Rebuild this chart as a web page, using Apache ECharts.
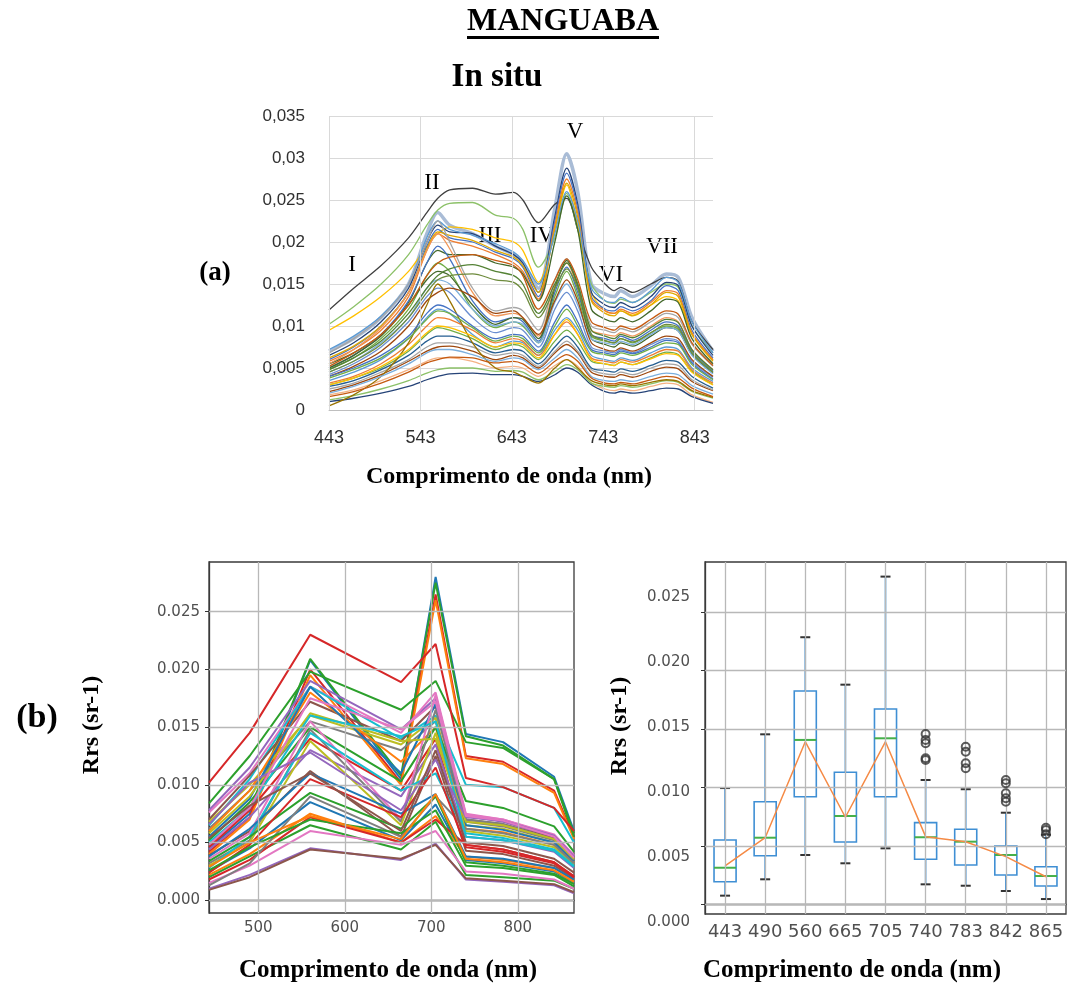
<!DOCTYPE html>
<html><head><meta charset="utf-8">
<script src="https://cdn.jsdelivr.net/npm/echarts@6/dist/echarts.min.js"></script>
<style>html,body{margin:0;padding:0;background:#fff}#c{width:1068px;height:987px}</style>
</head><body><div id="c"></div>
<script>
// ---------- Panel (a): in situ spectra (values in 1e-3 sr^-1) ----------
const topWavelengths = [443,470,500,530,550,562,575,600,625,645,655,672,690,703,715,730,745,755,762,775,795,812,825,840,863];
const topTicks = [443,543,643,743,843];
const topYTicks = [0,0.005,0.01,0.015,0.02,0.025,0.03,0.035];
const topSpectra = [
 [7.0,8.5,11.0,15.0,21.0,23.5,22.0,21.0,19.5,18.5,17.5,14.5,24.0,30.5,26.0,15.0,13.8,13.5,14.2,13.5,14.8,16.2,15.8,11.0,7.0],
 [11.9,14.5,17.2,20.5,23.5,25.2,26.2,26.4,25.7,25.9,25.0,22.3,24.5,25.2,21.5,17.0,15.0,14.2,14.6,14.0,15.0,15.8,15.3,10.5,7.2],
 [10.2,12.3,15.0,18.5,22.0,23.8,24.6,24.7,23.2,22.8,21.5,17.0,20.5,25.8,21.5,15.0,13.0,12.7,13.2,12.8,14.0,15.0,14.6,10.0,6.8],
 [9.5,11.2,13.5,16.5,19.5,21.0,21.8,21.5,20.5,20.0,19.0,15.2,21.5,26.8,22.0,14.0,11.8,11.5,11.8,11.3,12.5,13.5,13.0,9.0,6.0],
 [6.5,8.0,10.5,14.5,20.0,22.0,21.2,21.0,19.5,18.5,17.5,14.0,23.0,28.8,24.5,14.0,12.5,12.2,12.8,12.2,13.5,15.2,14.8,10.0,6.5],
 [6.0,7.5,10.0,14.0,19.5,21.5,20.5,20.0,18.8,18.0,17.0,13.5,22.5,28.2,24.0,13.5,12.0,11.8,12.3,11.8,13.0,14.8,14.2,9.5,6.2],
 [5.8,7.2,9.5,13.5,19.0,21.0,20.2,19.5,18.5,17.5,16.5,13.2,22.0,27.5,23.5,13.2,11.8,11.5,12.0,11.5,12.8,14.2,13.8,9.2,6.0],
 [6.2,7.6,10.0,14.0,19.2,21.2,20.8,20.2,19.0,18.2,17.2,14.0,21.5,27.0,23.0,13.0,11.5,11.2,11.8,11.2,12.5,14.0,13.5,9.0,5.8],
 [7.2,8.8,11.2,15.0,20.5,22.5,21.5,20.8,19.8,18.8,17.8,15.0,21.0,26.0,22.5,14.5,13.0,12.8,13.4,12.8,14.2,15.8,15.2,10.5,6.8],
 [5.5,6.8,9.0,12.8,17.5,19.0,18.5,18.5,17.5,17.0,16.2,13.0,20.0,25.5,21.5,12.0,10.8,10.5,11.0,10.5,11.8,13.2,12.8,8.5,5.5],
 [6.8,8.5,11.0,15.0,20.0,22.5,20.0,14.5,11.8,12.2,11.8,9.5,15.5,18.0,15.0,10.0,9.5,9.2,9.7,9.3,10.5,11.5,11.0,7.8,5.2],
 [5.5,7.2,9.8,14.0,19.0,21.0,19.2,14.0,11.2,11.5,11.0,8.8,14.8,17.5,14.5,9.5,9.0,8.8,9.2,8.8,10.0,11.0,10.5,7.2,4.8],
 [5.0,6.5,9.0,13.0,17.5,19.5,18.0,13.0,10.5,11.0,10.5,8.2,14.0,17.0,14.0,9.0,8.5,8.2,8.8,8.3,9.5,10.5,10.0,7.0,4.6],
 [4.8,6.2,8.5,12.0,16.0,17.5,16.5,12.0,9.8,10.5,10.0,8.0,13.5,16.5,13.5,8.8,8.2,8.0,8.5,8.0,9.2,10.0,9.6,6.8,4.5],
 [5.0,6.5,8.8,12.5,15.5,16.5,16.0,12.5,10.2,11.0,10.8,8.5,14.5,17.8,14.8,8.5,7.8,7.5,8.0,7.6,8.8,9.8,9.4,6.6,4.4],
 [4.5,5.8,8.0,11.0,14.5,15.5,15.0,12.0,10.0,10.5,10.2,8.0,12.8,15.0,12.5,8.5,8.0,7.8,8.2,7.8,9.0,9.8,9.4,6.5,4.3],
 [4.2,5.5,7.5,10.5,13.5,14.5,14.0,11.0,9.2,9.8,9.5,7.5,12.0,14.0,11.8,7.5,7.0,6.8,7.2,6.8,7.8,8.5,8.2,5.8,3.9],
 [4.0,5.2,7.0,10.0,13.0,14.0,14.5,13.5,11.5,11.8,11.0,9.0,13.0,15.5,13.0,8.0,7.2,7.0,7.4,7.0,8.0,8.8,8.5,6.0,4.0],
 [5.2,6.8,9.0,12.5,16.0,17.5,18.2,18.5,17.8,17.2,16.0,12.0,15.5,18.0,15.5,10.5,9.8,9.5,10.0,9.6,10.8,11.8,11.4,8.0,5.3],
 [4.8,6.2,8.2,11.5,14.5,16.0,16.8,17.3,16.5,16.0,15.0,11.5,15.0,17.5,15.0,9.5,8.8,8.5,9.0,8.6,9.8,10.8,10.4,7.2,4.8],
 [4.5,5.8,7.8,11.0,14.0,15.5,16.0,16.2,15.5,15.2,14.2,11.0,14.5,16.8,14.5,9.0,8.3,8.0,8.5,8.1,9.2,10.2,9.8,6.8,4.5],
 [3.5,4.5,6.0,8.5,11.0,12.0,11.5,9.0,7.5,8.2,8.0,6.5,9.5,11.0,9.5,6.5,6.0,5.8,6.2,5.9,6.8,7.5,7.2,5.0,3.4],
 [3.2,4.0,5.5,7.8,10.0,11.0,10.8,9.5,8.0,8.5,8.2,6.5,9.0,10.5,9.0,6.2,5.8,5.6,6.0,5.7,6.5,7.2,7.0,4.8,3.2],
 [3.0,3.8,5.0,7.0,9.0,9.8,9.5,8.5,7.2,7.8,7.5,6.0,8.2,9.5,8.2,5.8,5.5,5.3,5.7,5.4,6.2,6.9,6.6,4.6,3.0],
 [2.8,3.5,4.8,6.5,8.2,8.8,8.8,8.0,6.8,7.2,7.0,5.5,7.5,8.8,7.5,5.0,4.7,4.5,4.9,4.6,5.3,5.9,5.7,4.0,2.6],
 [2.2,3.0,4.2,5.8,7.0,7.5,7.6,7.0,6.0,6.5,6.2,5.0,6.8,7.8,6.8,4.5,4.0,3.9,4.2,3.9,4.6,5.1,4.9,3.4,2.3],
 [2.5,3.2,4.5,6.0,7.5,8.0,8.0,7.5,6.5,6.8,6.5,5.2,7.0,8.2,7.0,4.8,4.3,4.2,4.5,4.2,5.0,5.5,5.3,3.6,2.4],
 [1.8,2.4,3.5,4.8,5.8,6.2,6.2,5.8,5.0,5.2,5.0,4.0,5.3,6.0,5.2,3.2,2.5,2.3,2.5,2.3,2.8,3.2,3.0,1.8,0.9],
 [1.0,1.4,2.0,2.8,3.6,4.0,4.3,4.4,4.2,4.2,4.0,3.4,4.2,5.0,4.5,3.0,2.2,2.0,2.2,2.0,2.3,2.6,2.5,1.6,0.8],
 [1.2,1.7,2.5,3.5,4.4,4.8,5.0,5.0,4.6,4.7,4.5,3.6,4.6,5.4,4.8,3.2,2.8,2.7,2.9,2.7,3.1,3.5,3.3,2.2,1.4],
 [0.5,1.8,4.0,8.0,12.5,15.0,13.0,8.0,5.0,4.5,4.0,3.2,5.0,6.0,5.0,3.5,3.0,2.9,3.1,2.9,3.3,3.6,3.4,2.3,1.5],
 [4.0,5.0,6.5,8.8,11.5,12.5,12.0,10.0,8.5,9.0,8.8,7.0,10.5,12.5,10.5,7.2,6.8,6.6,7.0,6.7,7.5,8.3,8.0,5.6,3.7],
 [3.8,4.8,6.2,8.5,10.8,11.8,11.5,9.8,8.2,8.8,8.5,6.8,10.0,12.0,10.0,7.0,6.6,6.4,6.8,6.5,7.3,8.0,7.8,5.4,3.6],
 [3.0,3.8,5.2,7.2,9.2,10.0,9.8,8.8,7.5,8.0,7.8,6.2,9.0,10.8,9.0,6.0,5.5,5.3,5.7,5.4,6.1,6.7,6.5,4.5,3.0],
 [2.0,2.8,4.0,5.5,6.8,7.2,7.2,6.6,5.8,6.2,6.0,4.8,6.2,7.2,6.2,4.0,3.5,3.4,3.6,3.4,4.0,4.4,4.2,2.9,1.9],
 [1.6,2.2,3.2,4.5,5.6,6.0,6.3,6.2,5.6,5.8,5.5,4.4,5.8,6.6,5.8,3.8,3.2,3.1,3.3,3.1,3.6,4.0,3.8,2.6,1.6]
];
const topColors = ['#A9BCD6','#404040','#8CC168','#FFC000','#264478','#4472C4','#ED7D31','#E0A800','#5B9BD5','#43682B',
 '#A5A5A5','#F1975A','#4472C4','#70AD47','#43682B','#7CAFDD','#698ED0','#9E480E','#C55A11','#548235','#6E8B3D',
 '#5B9BD5','#ED7D31','#70AD47','#255E91','#9E480E','#A5A5A5','#F4B183','#264478','#8CC168','#997300',
 '#4472C4','#70AD47','#FFC000','#7CAFDD','#C55A11'];
const topWidths = [3.5];
const peakLabels = ['I','II','III','IV','V','VI','VII'];

// ---------- Panel (b) left: Sentinel-2 bands (values in 1e-3 sr^-1) ----------
const s2Wavelengths = [443,490,560,665,705,740,783,842,865];
const s2XTicks = [500,600,700,800];
const s2YTicks = [0,0.005,0.01,0.015,0.02,0.025];
const s2Spectra = [
 [4.5,7.5,20.8,10.5,28.0,14.4,13.7,10.7,6.0],
 [4.8,7.8,20.9,10.8,27.5,14.2,13.4,10.5,5.8],
 [4.2,7.2,20.0,10.2,26.5,12.5,12.0,9.5,5.5],
 [4.0,7.0,19.5,10.0,26.0,12.3,11.8,9.3,5.3],
 [8.4,12.5,19.8,16.5,19.0,13.7,13.2,10.5,5.5],
 [7.8,11.5,19.0,14.8,17.5,7.3,6.8,5.5,3.8],
 [7.6,11.0,18.5,14.5,18.0,7.5,7.0,5.7,3.9],
 [6.5,10.5,18.5,14.0,16.0,10.0,9.8,8.0,5.0],
 [7.0,10.8,17.2,13.8,16.8,7.0,6.6,5.4,3.7],
 [6.8,10.0,16.0,13.5,15.8,6.5,6.2,5.0,3.5],
 [6.2,9.5,15.5,13.0,15.5,6.8,6.4,5.2,3.6],
 [6.0,9.5,18.0,12.0,15.0,6.2,5.9,4.8,3.3],
 [5.5,8.8,18.5,11.0,17.0,6.5,6.1,5.0,3.4],
 [5.2,8.5,15.0,10.3,15.0,8.6,8.0,6.4,4.2],
 [4.6,7.8,14.0,9.5,14.0,4.8,4.4,3.3,2.1],
 [4.4,7.2,13.0,9.0,13.5,5.5,5.2,4.2,2.8],
 [3.9,6.0,11.2,5.5,12.5,4.3,4.0,3.0,1.9],
 [3.6,5.8,15.5,7.0,17.8,7.4,7.0,5.6,3.8],
 [3.2,5.2,14.8,6.8,16.5,7.0,6.6,5.3,3.5],
 [3.0,5.0,13.8,6.5,14.5,6.0,5.6,4.6,3.1],
 [2.8,5.5,14.5,9.5,11.0,5.8,5.4,4.4,3.0],
 [2.5,4.5,8.5,5.2,8.3,3.5,3.2,2.5,1.5],
 [2.2,4.0,7.5,5.0,7.3,3.8,3.5,2.8,1.7],
 [2.0,3.8,6.5,4.4,6.8,2.2,2.0,1.7,1.0],
 [1.8,3.5,7.2,5.0,7.0,4.8,4.4,3.3,2.0],
 [1.0,2.2,4.5,3.5,4.9,1.8,1.6,1.3,0.6],
 [0.9,2.0,4.4,3.6,4.8,1.9,1.7,1.4,0.7],
 [1.5,3.0,6.0,4.8,6.0,2.5,2.3,1.8,1.0],
 [1.3,3.2,9.0,5.5,9.0,6.2,5.8,4.8,3.2],
 [5.8,9.0,16.2,13.8,14.0,6.8,6.5,5.3,3.6],
 [5.0,8.0,16.0,14.2,15.5,5.5,5.2,4.3,2.9],
 [3.8,6.2,11.0,7.5,9.2,3.8,3.6,2.8,1.8],
 [3.4,5.5,9.3,6.2,9.0,3.3,3.0,2.3,1.4],
 [2.4,4.8,10.5,7.2,11.5,4.6,4.2,3.2,2.0],
 [6.6,10.2,12.8,7.8,12.2,7.2,6.9,5.6,3.8],
 [4.8,8.0,17.5,14.8,17.2,7.3,6.9,5.5,3.7],
 [5.4,8.2,11.0,6.0,13.0,5.0,4.7,3.6,2.4],
 [2.6,4.6,7.0,5.8,7.8,3.0,2.8,2.2,1.2],
 [2.9,5.0,7.3,5.3,9.2,3.6,3.3,2.6,1.6],
 [10.2,14.5,23.0,18.9,22.2,10.6,9.8,8.0,6.0]
];
const s2Colors = ['#1f77b4','#2ca02c','#d62728','#ff7f0e','#2ca02c','#9467bd','#e377c2','#17becf','#8c564b','#bcbd22',
 '#7f7f7f','#ff7f0e','#1f77b4','#2ca02c','#d62728','#9467bd','#8c564b','#e377c2','#7f7f7f','#bcbd22',
 '#17becf','#1f77b4','#ff7f0e','#2ca02c','#d62728','#9467bd','#8c564b','#e377c2','#7f7f7f','#bcbd22',
 '#17becf','#1f77b4','#2ca02c','#d62728','#9467bd','#e377c2','#8c564b','#2ca02c','#ff7f0e','#d62728'];

// ---------- Panel (b) right: boxplot per band (values in 1e-3 sr^-1) ----------
const boxCategories = ['443','490','560','665','705','740','783','842','865'];
const boxLow    = [0.74,2.14,4.22,3.51,4.79,1.71,1.59,1.14,0.45];
const boxQ1     = [1.93,4.16,9.21,5.33,9.21,3.85,3.36,2.51,1.57];
const boxMedian = [3.13,5.70,14.07,7.56,14.21,5.74,5.36,4.22,2.42];
const boxQ3     = [5.50,8.78,18.26,11.30,16.72,6.99,6.42,4.99,3.22];
const boxHigh   = [9.95,14.55,22.86,18.80,28.05,10.64,9.85,7.84,5.95];
const boxMeans  = [3.28,5.70,13.92,7.45,13.92,5.79,5.36,4.08,2.36];
const outlierBands  = ['740','740','740','740','740','783','783','783','783','842','842','842','842','842','865','865','865'];
const outlierValues = [14.58,14.07,13.78,12.5,12.35,13.49,13.06,12.07,11.64,10.64,10.36,9.5,9.08,8.78,6.56,6.36,5.99];
const boxYTicks = [0,0.005,0.01,0.015,0.02,0.025];

const K = 1000;
const serif = '"Liberation Serif","DejaVu Serif",serif';
const sans = '"DejaVu Sans",sans-serif';

const chart = echarts.init(document.getElementById('c'), null, {renderer:'canvas'});
const series = [];
const gridMarkStyle = {color:'#b8b8b8', width:1.3, type:'solid'};
function gridLines(xi, yi, pairs, style){
  return {type:'line', xAxisIndex:xi, yAxisIndex:yi, data:[], z:1, silent:true,
    markLine:{silent:true, symbol:['none','none'], label:{show:false}, animation:false,
      lineStyle:style, data: pairs}};
}

// top grid vertical gridlines
series.push(gridLines(0, 0, topTicks.map(v=>[{coord:[v,0]},{coord:[v,0.035]}]), {color:'#d9d9d9', width:1, type:'solid'}));
topSpectra.forEach((v,i)=>{
  series.push({type:'line', xAxisIndex:0, yAxisIndex:0, silent:true, showSymbol:false, smooth:0.3, z:2,
    data: topWavelengths.map((w,j)=>[w, v[j]/K]),
    lineStyle:{color: topColors[i], width: topWidths[i] || 1.3}});
});

// bottom-left gridlines
series.push(gridLines(1, 1,
  s2XTicks.map(v=>[{coord:[v,-0.0011]},{coord:[v,0.0293]}])
    .concat(s2YTicks.map(v=>[{coord:[443,v]},{coord:[865,v]}])), gridMarkStyle));
s2Spectra.forEach((v,i)=>{
  series.push({type:'line', xAxisIndex:1, yAxisIndex:1, silent:true, showSymbol:false, z:2,
    data: s2Wavelengths.map((w,j)=>[w, v[j]/K]),
    lineStyle:{color: s2Colors[i % s2Colors.length], width:2}});
});

// bottom-right gridlines: vertical on category axis, horizontal on a hidden 0..1 x axis
series.push(gridLines(2, 2, boxCategories.map(c=>[{coord:[c,-0.00083]},{coord:[c,0.0293]}]), gridMarkStyle));
series.push(gridLines(4, 2, boxYTicks.map(v=>[{coord:[0,v]},{coord:[1,v]}]), gridMarkStyle));

const boxBlue = '#3f8fd4';
series.push({type:'custom', xAxisIndex:2, yAxisIndex:2, z:3, silent:true,
  data: boxCategories.map((c,i)=>[i, boxLow[i]/K, boxQ1[i]/K, boxMedian[i]/K, boxQ3[i]/K, boxHigh[i]/K]),
  encode:{x:0, y:[1,2,3,4,5]},
  renderItem:function(params, api){
    const i = api.value(0);
    const pL = api.coord([i, api.value(1)]);
    const p1 = api.coord([i, api.value(2)]);
    const pM = api.coord([i, api.value(3)]);
    const p3 = api.coord([i, api.value(4)]);
    const pH = api.coord([i, api.value(5)]);
    const x = pL[0];
    const bw = api.size([1,0])[0]*0.55;
    const cw = 5;
    const st = {stroke:boxBlue, lineWidth:1.6, fill:null};
    return {type:'group', children:[
      {type:'line', shape:{x1:x,y1:pL[1],x2:x,y2:p1[1]}, style:st},
      {type:'line', shape:{x1:x,y1:p3[1],x2:x,y2:pH[1]}, style:st},
      {type:'rect', shape:{x:x-bw/2,y:p3[1],width:bw,height:p1[1]-p3[1]}, style:{stroke:boxBlue,lineWidth:1.6,fill:'rgba(0,0,0,0)'}},
      {type:'line', shape:{x1:x-bw/2,y1:pM[1],x2:x+bw/2,y2:pM[1]}, style:{stroke:'#45b04a',lineWidth:2}},
      {type:'line', shape:{x1:x-cw,y1:pL[1],x2:x+cw,y2:pL[1]}, style:{stroke:'#333',lineWidth:2}},
      {type:'line', shape:{x1:x-cw,y1:pH[1],x2:x+cw,y2:pH[1]}, style:{stroke:'#333',lineWidth:2}}
    ]};
  }});
series.push({type:'line', xAxisIndex:2, yAxisIndex:2, z:4, silent:true, showSymbol:false,
  data: boxMeans.map((m,i)=>[boxCategories[i], m/K]),
  lineStyle:{color:'#f58a45', width:1.5}});
series.push({type:'scatter', xAxisIndex:2, yAxisIndex:2, z:5, silent:true, symbol:'circle', symbolSize:8,
  data: outlierBands.map((b,i)=>[b, outlierValues[i]/K]),
  itemStyle:{color:'rgba(0,0,0,0)', borderColor:'#333', borderWidth:2}});

// graphic texts
function txt(text, x, y, font, extra){
  return Object.assign({type:'text', x:x, y:y, silent:true,
    style:{text:text, font:font, fill:'#000', textAlign:'center', textVerticalAlign:'middle'}}, extra||{});
}
const peakLabelPos = [[352,265],[432,183],[490,236],[542,236],[575,132],[611,275],[662,247]];
const graphics = [
  txt('MANGUABA', 563, 22, 'bold 32px '+serif),
  {type:'rect', silent:true, shape:{x:467, y:36, width:192, height:3}, style:{fill:'#000'}},
  txt('In situ', 497, 77, 'bold 33px '+serif),
  txt('(a)', 215, 273, 'bold 27px '+serif),
  txt('Comprimento de onda (nm)', 509, 477, 'bold 24px '+serif),
  txt('(b)', 37, 718, 'bold 34px '+serif),
  txt('Rrs (sr-1)', 92, 725, 'bold 24px '+serif, {rotation:Math.PI/2}),
  txt('Rrs (sr-1)', 620, 726, 'bold 24px '+serif, {rotation:Math.PI/2}),
  txt('Comprimento de onda (nm)', 388, 971, 'bold 25px '+serif),
  txt('Comprimento de onda (nm)', 852, 971, 'bold 25px '+serif)
];
peakLabels.forEach((t,i)=>graphics.push(txt(t, peakLabelPos[i][0], peakLabelPos[i][1], '23px '+serif)));

const option = {
  animation:false,
  backgroundColor:'#fff',
  grid:[
    {left:329, top:116, width:384, height:294},
    {left:209, top:562, width:365, height:351, show:true, borderColor:'#3a3a3a', borderWidth:1.3, backgroundColor:'rgba(0,0,0,0)'},
    {left:705, top:562, width:361, height:352, show:true, borderColor:'#3a3a3a', borderWidth:1.3, backgroundColor:'rgba(0,0,0,0)'},
    {left:705, top:597, width:10, height:325}
  ],
  xAxis:[
    {type:'value', gridIndex:0, min:443, max:863, interval:100,
      axisLine:{show:true, lineStyle:{color:'#bfbfbf'}}, axisTick:{show:false}, splitLine:{show:false},
      axisLabel:{showMaxLabel:false, margin:19, fontSize:18, color:'#303030', fontFamily:'"Liberation Sans",Arial,sans-serif'}},
    {type:'value', gridIndex:1, min:443, max:865,
      axisLine:{show:true, lineStyle:{color:'#3a3a3a', width:1.3}}, splitLine:{show:false},
      axisTick:{show:true, customValues:s2XTicks, length:4, lineStyle:{color:'#333'}},
      axisLabel:{customValues:s2XTicks, margin:8, fontSize:15, color:'#505050', fontFamily:sans}},
    {type:'category', gridIndex:2, data:boxCategories, boundaryGap:true,
      axisLine:{show:true, lineStyle:{color:'#3a3a3a', width:1.3}}, splitLine:{show:false},
      axisTick:{show:true, alignWithLabel:true, length:4, lineStyle:{color:'#333'}},
      axisLabel:{margin:9, fontSize:18, color:'#505050', fontFamily:sans, interval:0}},
    {type:'value', gridIndex:3, show:false, min:0, max:1},
    {type:'value', gridIndex:2, show:false, min:0, max:1}
  ],
  yAxis:[
    {type:'value', gridIndex:0, min:0, max:0.035, interval:0.005,
      axisLine:{show:false}, axisTick:{show:false},
      splitLine:{show:true, lineStyle:{color:'#d9d9d9', width:1}},
      axisLabel:{margin:24, fontSize:17, color:'#303030', fontFamily:'"Liberation Sans",Arial,sans-serif',
        formatter:v=>String(+v.toFixed(3)).replace('.', ',')}},
    {type:'value', gridIndex:1, min:-0.0011, max:0.0293,
      axisLine:{show:true, lineStyle:{color:'#3a3a3a', width:1.3}}, splitLine:{show:false},
      axisTick:{show:true, customValues:s2YTicks, length:4, lineStyle:{color:'#333'}},
      axisLabel:{customValues:s2YTicks, margin:9, fontSize:15, color:'#505050', fontFamily:sans,
        formatter:v=>(+v).toFixed(3)}},
    {type:'value', gridIndex:2, min:-0.00083, max:0.0293,
      axisLine:{show:true, lineStyle:{color:'#3a3a3a', width:1.3}}, splitLine:{show:false},
      axisTick:{show:true, customValues:boxYTicks, length:4, lineStyle:{color:'#333'}},
      axisLabel:{show:false}},
    {type:'value', gridIndex:3, min:0, max:0.025, interval:0.005,
      axisLine:{show:false}, axisTick:{show:false}, splitLine:{show:false},
      axisLabel:{margin:15, fontSize:15, color:'#505050', fontFamily:sans, formatter:v=>(+v).toFixed(3)}}
  ],
  series: series,
  graphic: graphics
};
chart.setOption(option);
</script>
</body></html>
